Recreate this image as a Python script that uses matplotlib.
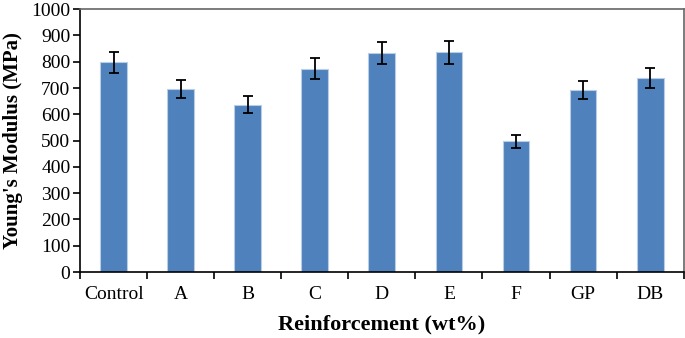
import numpy as np
import matplotlib
matplotlib.use("Agg")
import matplotlib.pyplot as plt
from matplotlib.ticker import FixedLocator, NullFormatter

# Données
categories = ["Control", "A", "B", "C", "D", "E", "F", "GP", "DB"]
modulus = [798, 696, 637, 774, 833, 836, 497, 693, 738]
erreurs = [40, 35, 32, 40, 43, 43, 25, 35, 38]

plt.rcParams["font.family"] = ["Liberation Serif", "DejaVu Serif"]

fig = plt.figure(figsize=(6.85, 3.38), dpi=100)
ax = fig.add_axes([0.117, 0.195, 0.881, 0.778])

x = np.arange(len(categories))
ax.bar(x, modulus, width=0.4, color="#4F81BD", edgecolor="#B9CDE5", linewidth=0.8,
       yerr=erreurs, error_kw=dict(ecolor="black", elinewidth=1.3, capsize=3.5, capthick=1.3))

ax.set_xlim(-0.5, len(categories) - 0.5)
ax.set_ylim(0, 1000)
ax.set_yticks(np.arange(0, 1001, 100))

# ticks de l'axe x entre les catégories
ax.set_xticks(x)
ax.set_xticklabels(categories)
ax.tick_params(axis="x", which="major", length=0, labelsize=14, pad=10)
ax.xaxis.set_minor_locator(FixedLocator(np.arange(-0.5, len(categories), 1.0)))
ax.xaxis.set_minor_formatter(NullFormatter())
ax.tick_params(axis="x", which="minor", length=5, width=1.2, direction="out")
ax.tick_params(axis="y", length=5, width=1.2, direction="out", labelsize=14, pad=2)

for s in ["left", "bottom"]:
    ax.spines[s].set_color("black")
    ax.spines[s].set_linewidth(1.2)
for s in ["top", "right"]:
    ax.spines[s].set_color("#666666")
    ax.spines[s].set_linewidth(1.2)

ax.set_xlabel("Reinforcement (wt%)", fontsize=16, fontweight="bold", labelpad=8)
ax.set_ylabel("Young's Modulus (MPa)", fontsize=15, fontweight="bold")
ax.yaxis.set_label_coords(-0.095, 0.5)

fig.savefig("out.png", dpi=100)
